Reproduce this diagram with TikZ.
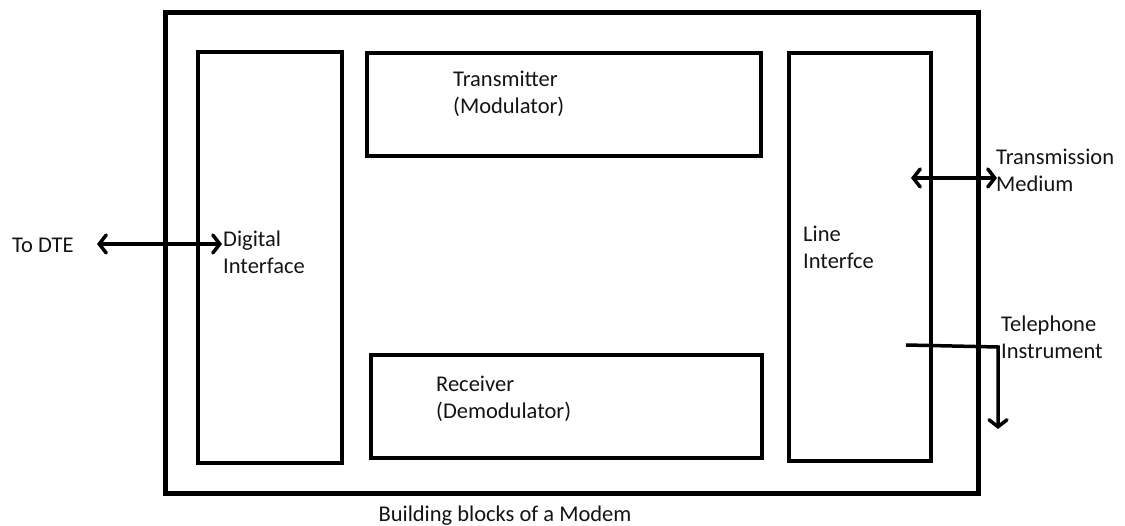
\documentclass[tikz,border=0pt]{standalone}
\usepackage{fontspec}
\setmainfont{Carlito}
\usetikzlibrary{arrows.meta}
\begin{document}
\begin{tikzpicture}[x=1pt,y=-1pt,
  blk/.style={draw=black,line width=4pt,fill=none},
  conn/.style={line width=3.5pt,{Straight Barb[length=7pt,width=18pt,line cap=round]}-{Straight Barb[length=7pt,width=18pt,line cap=round]}},
  lbl/.style={inner sep=0pt,align=left,anchor=north west,font=\fontsize{22.5}{26.5}\selectfont,text=black!92}]
\useasboundingbox (0,0) rectangle (1125,526);
\draw[blk,line width=5pt] (165,13) rectangle (978,493);
\draw[blk] (198,52) rectangle (342,463);
\draw[blk] (367,53) rectangle (761,156);
\draw[blk] (371,355) rectangle (762,458);
\draw[blk] (789,53) rectangle (931,461);
\coordinate (dte) at (97,244);
\coordinate (dip) at (222,244);
\draw[conn] (dte) -- (dip);
\coordinate (tml) at (911,178);
\coordinate (tmr) at (997,178);
\draw[conn] (tml) -- (tmr);
\coordinate (tel0) at (906,345);
\coordinate (tel1) at (998,347);
\coordinate (tel2) at (998,429);
\draw[line width=3.5pt,-{Straight Barb[length=7pt,width=18pt,line cap=round]}] (tel0) -- (tel1) -- (tel2);
\node[lbl,anchor=west] (tdte) at (12,245) {To DTE};
\node[lbl] (tdi) at (223,231) {Digital\\Interface};
\node[lbl] (ttx) at (453,71) {Transmitter\\(Modulator)};
\node[lbl] (trx) at (436,376) {Receiver\\(Demodulator)};
\node[lbl] (tli) at (803,226) {Line\\Interfce};
\node[lbl] (ttm) at (996,149) {Transmission\\Medium};
\node[lbl] (ttel) at (1001,316) {Telephone\\Instrument};
\node[lbl,anchor=center] (cap) at (505,516) {Building blocks of a Modem};
\end{tikzpicture}
\end{document}
